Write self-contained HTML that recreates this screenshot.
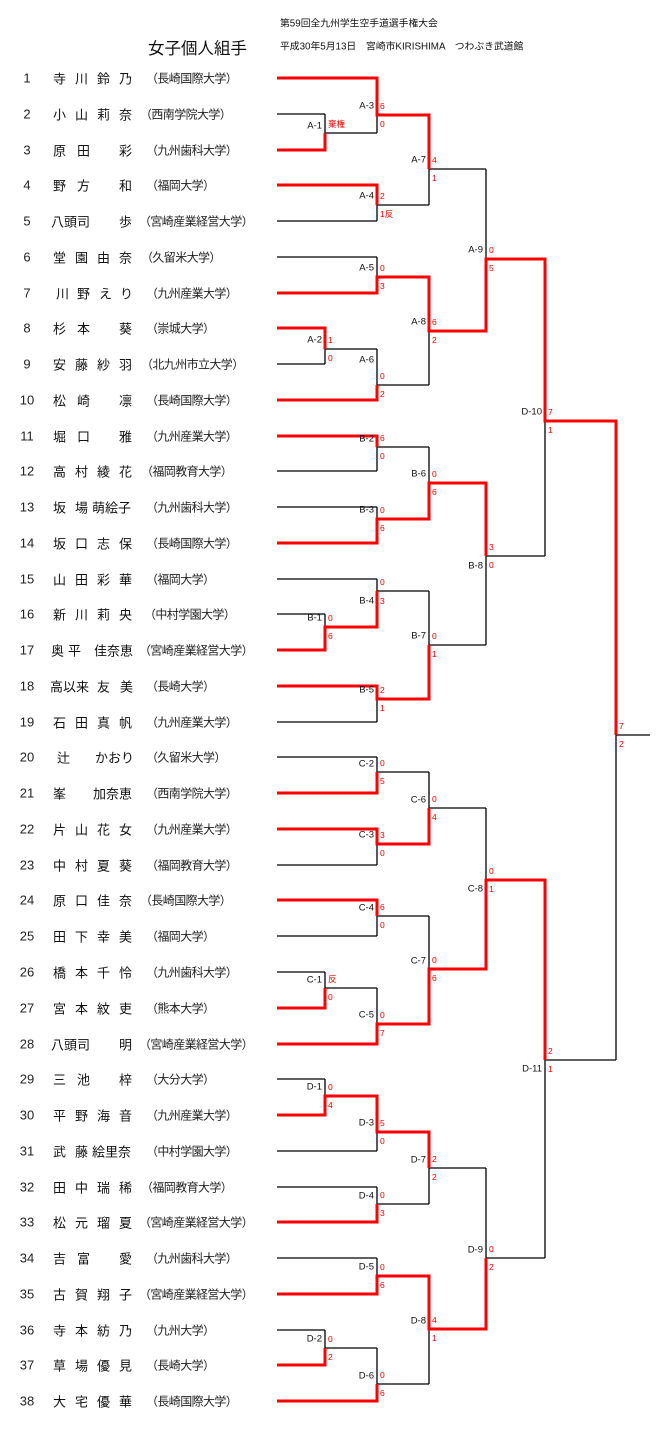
<!DOCTYPE html>
<html><head><meta charset="utf-8"><style>
html,body{margin:0;padding:0;background:#fff;}
svg{display:block;}
.n{font-family:"Liberation Sans","Noto Sans CJK JP",sans-serif;font-size:13px;fill:#222;dominant-baseline:central;}
.nm{font-family:"Noto Sans CJK JP",sans-serif;font-size:13px;fill:#111;dominant-baseline:central;}
.u{font-family:"Noto Sans CJK JP",sans-serif;font-size:12px;fill:#222;dominant-baseline:central;letter-spacing:-0.6px;}
.l{font-family:"Liberation Sans",sans-serif;font-size:9.5px;fill:#111;dominant-baseline:central;text-anchor:end;}
.s{font-family:"Liberation Sans","Noto Sans CJK JP",sans-serif;font-size:8.5px;fill:#e00;dominant-baseline:central;}
.h{font-family:"Liberation Sans","Noto Sans CJK JP",sans-serif;font-size:9.8px;fill:#111;dominant-baseline:central;}
</style></head><body>
<svg width="657" height="1429" viewBox="0 0 657 1429" xmlns="http://www.w3.org/2000/svg">
<text class="h" x="280" y="24">第59回全九州学生空手道選手権大会</text>
<text class="h" x="280" y="47" xml:space="preserve">平成30年5月13日　宮崎市KIRISHIMA　つわぶき武道館</text>
<text x="148" y="47" style="font-family:'Noto Sans CJK JP',sans-serif;font-size:16.5px;fill:#111;dominant-baseline:central;">女子個人組手</text>

<g class="n" text-anchor="middle">
<text x="27" y="78">1</text><text x="27" y="114">2</text><text x="27" y="150">3</text><text x="27" y="185">4</text><text x="27" y="221">5</text><text x="27" y="257">6</text><text x="27" y="293">7</text><text x="27" y="328">8</text><text x="27" y="364">9</text><text x="27" y="400">10</text><text x="27" y="436">11</text><text x="27" y="471">12</text><text x="27" y="507">13</text><text x="27" y="543">14</text><text x="27" y="579">15</text><text x="27" y="614">16</text><text x="27" y="650">17</text><text x="27" y="686">18</text><text x="27" y="722">19</text><text x="27" y="757">20</text><text x="27" y="793">21</text><text x="27" y="829">22</text><text x="27" y="865">23</text><text x="27" y="900">24</text><text x="27" y="936">25</text><text x="27" y="972">26</text><text x="27" y="1008">27</text><text x="27" y="1044">28</text><text x="27" y="1079">29</text><text x="27" y="1115">30</text><text x="27" y="1151">31</text><text x="27" y="1187">32</text><text x="27" y="1222">33</text><text x="27" y="1258">34</text><text x="27" y="1294">35</text><text x="27" y="1330">36</text><text x="27" y="1365">37</text><text x="27" y="1401">38</text>
</g>

<g class="nm">
<text x="53 75 97 119" y="78">寺川鈴乃</text>
<text x="53 75 97 119" y="114">小山莉奈</text>
<text x="53 77 119" y="150">原田彩</text>
<text x="53 77 119" y="185">野方和</text>
<text x="51 64 77 119" y="221">八頭司歩</text>
<text x="53 75 97 119" y="257">堂園由奈</text>
<text x="56 77 99 120" y="293">川野えり</text>
<text x="53 77 119" y="328">杉本葵</text>
<text x="53 75 97 119" y="364">安藤紗羽</text>
<text x="53 77 119" y="400">松崎凛</text>
<text x="53 77 119" y="436">堀口雅</text>
<text x="53 75 97 119" y="471">高村綾花</text>
<text x="53 75 92 105 118" y="507">坂場萌絵子</text>
<text x="53 75 97 119" y="543">坂口志保</text>
<text x="53 75 97 119" y="579">山田彩華</text>
<text x="53 75 97 119" y="614">新川莉央</text>
<text x="51 68 94 107 120" y="650">奥平佳奈恵</text>
<text x="50 63 76 97 120" y="686">高以来友美</text>
<text x="53 75 97 119" y="722">石田真帆</text>
<text x="57 95 108 121" y="757">辻かおり</text>
<text x="53 93 106 119" y="793">峯加奈恵</text>
<text x="53 75 97 119" y="829">片山花女</text>
<text x="53 75 97 119" y="865">中村夏葵</text>
<text x="53 75 97 119" y="900">原口佳奈</text>
<text x="53 75 97 119" y="936">田下幸美</text>
<text x="53 75 97 119" y="972">橋本千怜</text>
<text x="53 75 97 119" y="1008">宮本紋吏</text>
<text x="51 64 77 119" y="1044">八頭司明</text>
<text x="53 77 119" y="1079">三池梓</text>
<text x="53 75 97 119" y="1115">平野海音</text>
<text x="53 75 92 105 118" y="1151">武藤絵里奈</text>
<text x="53 75 97 119" y="1187">田中瑞稀</text>
<text x="53 75 97 119" y="1222">松元瑠夏</text>
<text x="53 77 119" y="1258">吉富愛</text>
<text x="53 75 97 119" y="1294">古賀翔子</text>
<text x="53 75 97 119" y="1330">寺本紡乃</text>
<text x="53 75 97 119" y="1365">草場優見</text>
<text x="53 75 97 119" y="1401">大宅優華</text>
</g>

<g class="u" transform="translate(-6,0)">
<text x="152" y="78">（長崎国際大学）</text>
<text x="146" y="114">（西南学院大学）</text>
<text x="152" y="150">（九州歯科大学）</text>
<text x="152" y="185">（福岡大学）</text>
<text x="145" y="221">（宮崎産業経営大学）</text>
<text x="147" y="257">（久留米大学）</text>
<text x="152" y="293">（九州産業大学）</text>
<text x="152" y="328">（崇城大学）</text>
<text x="147" y="364">（北九州市立大学）</text>
<text x="152" y="400">（長崎国際大学）</text>
<text x="152" y="436">（九州産業大学）</text>
<text x="147" y="471">（福岡教育大学）</text>
<text x="152" y="507">（九州歯科大学）</text>
<text x="152" y="543">（長崎国際大学）</text>
<text x="152" y="579">（福岡大学）</text>
<text x="150" y="614">（中村学園大学）</text>
<text x="145" y="650">（宮崎産業経営大学）</text>
<text x="152" y="686">（長崎大学）</text>
<text x="152" y="722">（九州産業大学）</text>
<text x="152" y="757">（久留米大学）</text>
<text x="152" y="793">（西南学院大学）</text>
<text x="152" y="829">（九州産業大学）</text>
<text x="152" y="865">（福岡教育大学）</text>
<text x="146" y="900">（長崎国際大学）</text>
<text x="152" y="936">（福岡大学）</text>
<text x="152" y="972">（九州歯科大学）</text>
<text x="152" y="1008">（熊本大学）</text>
<text x="145" y="1044">（宮崎産業経営大学）</text>
<text x="152" y="1079">（大分大学）</text>
<text x="152" y="1115">（九州産業大学）</text>
<text x="152" y="1151">（中村学園大学）</text>
<text x="147" y="1187">（福岡教育大学）</text>
<text x="145" y="1222">（宮崎産業経営大学）</text>
<text x="152" y="1258">（九州歯科大学）</text>
<text x="145" y="1294">（宮崎産業経営大学）</text>
<text x="152" y="1330">（九州大学）</text>
<text x="152" y="1365">（長崎大学）</text>
<text x="152" y="1401">（長崎国際大学）</text>
</g>

<g stroke="#000" stroke-width="1.3" fill="none">
<path d="M277 78H377M277 114H325M277 150H325M277 185H377M277 221H377M277 257H377M277 293H377M277 328H325M277 364H325M277 400H377
M277 436H377M277 471H377M277 507H377M277 543H377M277 579H377M277 614H325M277 650H325M277 686H377M277 722H377
M277 757H377M277 793H377M277 829H377M277 865H377M277 900H377M277 936H377M277 972H325M277 1008H325M277 1044H377
M277 1079H325M277 1115H325M277 1151H377M277 1187H377M277 1222H377M277 1258H377M277 1294H377M277 1330H325M277 1365H325M277 1401H377"/>
<path d="M325 114V150M325 133H377
M377 78V133M377 115H429
M377 185V221M377 205H429
M429 115V205M429 169H486
M377 257V293M377 277H429
M325 328V364M325 349H377
M377 349V400M377 385H429
M429 277V385M429 331H486
M486 169V331M486 259H545
M377 436V471M377 447H429
M377 507V543M377 519H429
M429 447V519M429 483H486
M325 614V650M325 627H377
M377 579V627M377 591H429
M377 686V722M377 699H429
M429 591V699M429 645H486
M486 483V645M486 556H545
M545 259V556M545 421H616
M377 757V793M377 772H429
M377 829V865M377 844H429
M429 772V844M429 808H486
M377 900V936M377 916H429
M325 972V1008M325 988H377
M377 988V1044M377 1024H429
M429 916V1024M429 969H486
M486 808V969M486 880H545
M325 1079V1115M325 1096H377
M377 1096V1151M377 1132H429
M377 1187V1222M377 1204H429
M429 1132V1204M429 1168H486
M377 1258V1294M377 1276H429
M325 1330V1365M325 1348H377
M377 1348V1401M377 1384H429
M429 1276V1384M429 1329H486
M486 1168V1329M486 1258H545
M545 880V1258M545 1060H616
M616 421V1060M616 735H650"/>
</g>

<g stroke="#f00" stroke-width="3" fill="none" stroke-linejoin="miter">
<polyline points="277,78 377,78 377,115 429,115 429,169"/>
<polyline points="277,150 325,150 325,133"/>
<polyline points="277,185 377,185 377,205"/>
<polyline points="277,293 377,293 377,277 429,277 429,331 486,331 486,259 545,259 545,421 616,421 616,735"/>
<polyline points="277,328 325,328 325,349"/>
<polyline points="277,400 377,400 377,385"/>
<polyline points="277,436 377,436 377,447"/>
<polyline points="277,543 377,543 377,519 429,519 429,483 486,483 486,556"/>
<polyline points="277,650 325,650 325,627 377,627 377,591"/>
<polyline points="277,686 377,686 377,699 429,699 429,645"/>
<polyline points="277,793 377,793 377,772"/>
<polyline points="277,829 377,829 377,844 429,844 429,808"/>
<polyline points="277,900 377,900 377,916"/>
<polyline points="277,1008 325,1008 325,988"/>
<polyline points="277,1044 377,1044 377,1024 429,1024 429,969 486,969 486,880 545,880 545,1060"/>
<polyline points="277,1115 325,1115 325,1096 377,1096 377,1132 429,1132 429,1168"/>
<polyline points="277,1222 377,1222 377,1204"/>
<polyline points="277,1294 377,1294 377,1276 429,1276 429,1329 486,1329 486,1258"/>
<polyline points="277,1365 325,1365 325,1348"/>
<polyline points="277,1401 377,1401 377,1384"/>
</g>

<g class="l">
<text x="322" y="126">A-1</text>
<text x="374" y="106">A-3</text>
<text x="374" y="196">A-4</text>
<text x="426" y="160">A-7</text>
<text x="374" y="268">A-5</text>
<text x="322" y="340">A-2</text>
<text x="374" y="360">A-6</text>
<text x="426" y="322">A-8</text>
<text x="483" y="250">A-9</text>
<text x="374" y="439">B-2</text>
<text x="374" y="510">B-3</text>
<text x="426" y="474">B-6</text>
<text x="322" y="618">B-1</text>
<text x="374" y="601">B-4</text>
<text x="374" y="690">B-5</text>
<text x="426" y="636">B-7</text>
<text x="483" y="566">B-8</text>
<text x="542" y="412">D-10</text>
<text x="374" y="764">C-2</text>
<text x="374" y="835">C-3</text>
<text x="426" y="800">C-6</text>
<text x="374" y="908">C-4</text>
<text x="322" y="980">C-1</text>
<text x="374" y="1015">C-5</text>
<text x="426" y="961">C-7</text>
<text x="483" y="889">C-8</text>
<text x="322" y="1087">D-1</text>
<text x="374" y="1123">D-3</text>
<text x="374" y="1196">D-4</text>
<text x="426" y="1160">D-7</text>
<text x="374" y="1267">D-5</text>
<text x="322" y="1339">D-2</text>
<text x="374" y="1376">D-6</text>
<text x="426" y="1321">D-8</text>
<text x="483" y="1250">D-9</text>
<text x="542" y="1069">D-11</text>
</g>

<g class="s">
<text x="328" y="124">棄権</text>
<text x="380" y="106">6</text><text x="380" y="124">0</text>
<text x="380" y="196">2</text><text x="380" y="214">1反</text>
<text x="432" y="160">4</text><text x="432" y="178">1</text>
<text x="380" y="268">0</text><text x="380" y="286">3</text>
<text x="328" y="340">1</text><text x="328" y="358">0</text>
<text x="380" y="376">0</text><text x="380" y="394">2</text>
<text x="432" y="322">6</text><text x="432" y="340">2</text>
<text x="489" y="250">0</text><text x="489" y="268">5</text>
<text x="380" y="438">6</text><text x="380" y="456">0</text>
<text x="380" y="510">0</text><text x="380" y="528">6</text>
<text x="432" y="474">0</text><text x="432" y="492">6</text>
<text x="328" y="618">0</text><text x="328" y="636">6</text>
<text x="380" y="582">0</text><text x="380" y="601">3</text>
<text x="380" y="690">2</text><text x="380" y="708">1</text>
<text x="432" y="636">0</text><text x="432" y="654">1</text>
<text x="489" y="547">3</text><text x="489" y="565">0</text>
<text x="548" y="412">7</text><text x="548" y="430">1</text>
<text x="380" y="763">0</text><text x="380" y="781">5</text>
<text x="380" y="835">3</text><text x="380" y="853">0</text>
<text x="432" y="799">0</text><text x="432" y="817">4</text>
<text x="380" y="907">6</text><text x="380" y="925">0</text>
<text x="328" y="979">反</text><text x="328" y="997">0</text>
<text x="380" y="1015">0</text><text x="380" y="1033">7</text>
<text x="432" y="960">0</text><text x="432" y="978">6</text>
<text x="489" y="871">0</text><text x="489" y="889">1</text>
<text x="328" y="1087">0</text><text x="328" y="1105">4</text>
<text x="380" y="1123">5</text><text x="380" y="1141">0</text>
<text x="380" y="1195">0</text><text x="380" y="1213">3</text>
<text x="432" y="1159">2</text><text x="432" y="1177">2</text>
<text x="380" y="1267">0</text><text x="380" y="1285">6</text>
<text x="328" y="1339">0</text><text x="328" y="1357">2</text>
<text x="380" y="1375">0</text><text x="380" y="1393">6</text>
<text x="432" y="1320">4</text><text x="432" y="1338">1</text>
<text x="489" y="1249">0</text><text x="489" y="1267">2</text>
<text x="548" y="1051">2</text><text x="548" y="1069">1</text>
<text x="619" y="726">7</text><text x="619" y="744">2</text>
</g>
</svg>
</body></html>
